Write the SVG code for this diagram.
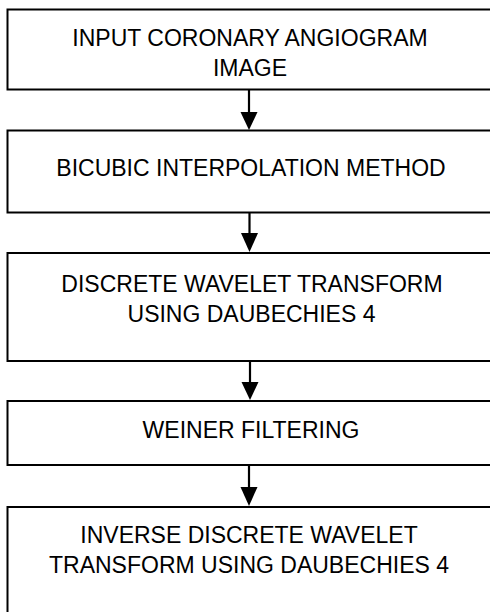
<svg xmlns="http://www.w3.org/2000/svg" width="490" height="612" viewBox="0 0 490 612">
<defs>
<style>
.box{fill:#fff;stroke:#000;stroke-width:2}
.lbl{font-family:"Liberation Sans",Arial,sans-serif;font-size:23px;fill:#000;text-anchor:middle}
.con{stroke:#000;stroke-width:2.2;fill:none}
.head{fill:#000;stroke:none}
</style>
</defs>
<rect width="490" height="612" fill="#fff"/>
<g id="n1"><rect class="box" x="7.5" y="9.5" width="485" height="80"/>
<text class="lbl" x="250" y="46">INPUT CORONARY ANGIOGRAM</text>
<text class="lbl" x="250" y="76">IMAGE</text></g>
<g id="n2"><rect class="box" x="7.5" y="130.5" width="485" height="82"/>
<text class="lbl" x="251" y="176">BICUBIC INTERPOLATION METHOD</text></g>
<g id="n3"><rect class="box" x="7.5" y="253" width="485" height="108"/>
<text class="lbl" x="252" y="291.5">DISCRETE WAVELET TRANSFORM</text>
<text class="lbl" x="251.5" y="321.5">USING DAUBECHIES 4</text></g>
<g id="n4"><rect class="box" x="7.5" y="401" width="485" height="64"/>
<text class="lbl" x="251" y="438">WEINER FILTERING</text></g>
<g id="n5"><rect class="box" x="7.5" y="507" width="485" height="120"/>
<text class="lbl" x="249" y="543">INVERSE DISCRETE WAVELET</text>
<text class="lbl" x="249" y="573">TRANSFORM USING DAUBECHIES 4</text></g>
<g id="connectors">
<line class="con" x1="249" y1="90" x2="249" y2="113"/>
<polygon class="head" points="240.5,112 257.5,112 249,130"/>
<line class="con" x1="249.5" y1="213" x2="249.5" y2="234"/>
<polygon class="head" points="241,233 258,233 249.5,252"/>
<line class="con" x1="250" y1="361" x2="250" y2="383"/>
<polygon class="head" points="241.5,382 258.5,382 250,400"/>
<line class="con" x1="249" y1="465" x2="249" y2="488"/>
<polygon class="head" points="240.5,487 257.5,487 249,506"/>
</g>
</svg>
